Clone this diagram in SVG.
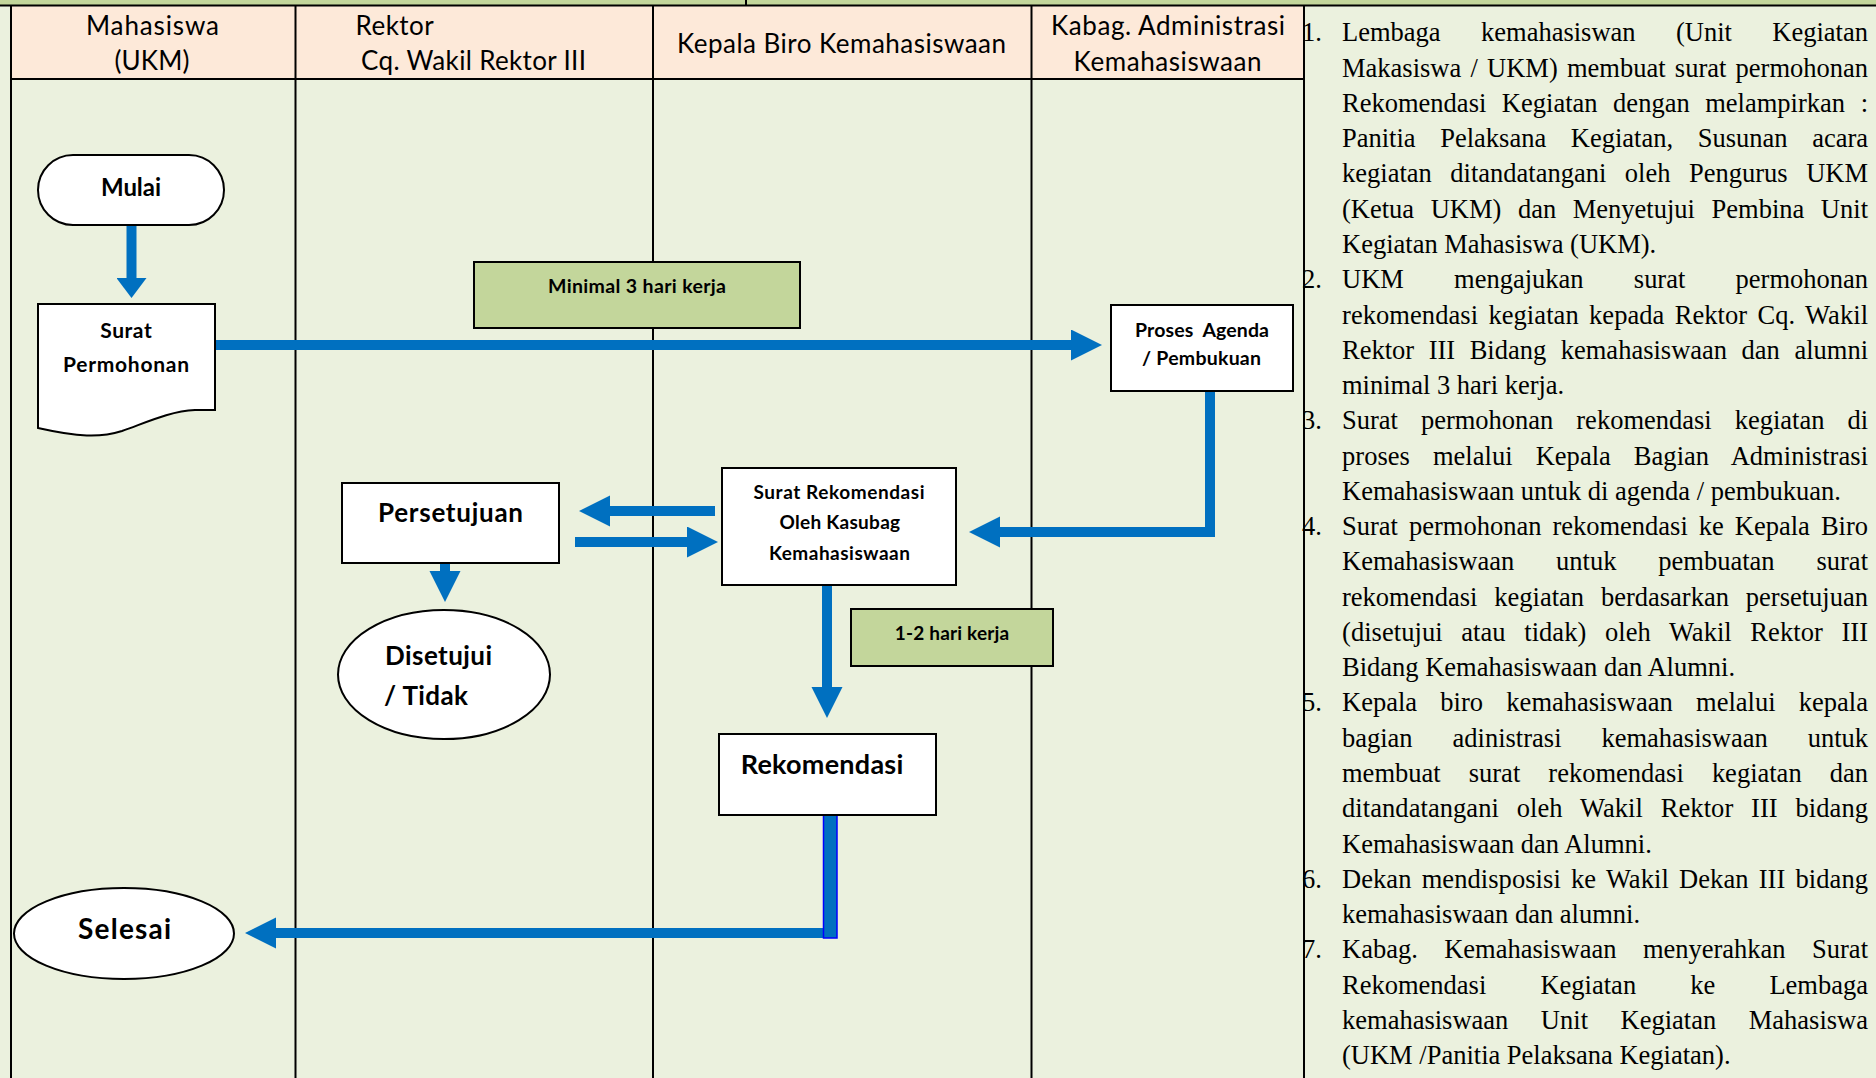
<svg xmlns="http://www.w3.org/2000/svg" width="1876" height="1078" viewBox="0 0 1876 1078">
<defs>
<style>
.lane{stroke:#000;stroke-width:2;fill:none}
.box{fill:#fff;stroke:#000;stroke-width:2}
.tag{fill:#C3D69B;stroke:#000;stroke-width:2}
.lbl{font-family:Lato,"Open Sans","Liberation Sans",sans-serif;font-weight:700;fill:#000}
.hdr{font-family:Lato,"Open Sans","Liberation Sans",sans-serif;font-size:26px;fill:#000}
.body{font-family:"Liberation Serif","Times New Roman",serif;font-size:26.5px;fill:#000}
.conn{stroke:#0070C0;fill:none;stroke-width:10;stroke-linejoin:miter}
</style>
<marker id="ah" markerUnits="userSpaceOnUse" markerWidth="32" markerHeight="32" refX="0" refY="15.5" orient="auto">
<path d="M0,0 L31,15.5 L0,31 Z" fill="#0070C0"/>
</marker>
<marker id="ah2" markerUnits="userSpaceOnUse" markerWidth="22" markerHeight="30" refX="0" refY="15" orient="auto">
<path d="M0,0 L20,15 L0,30 Z" fill="#0070C0"/>
</marker>
</defs>

<g id="background">
<rect x="0" y="0" width="1876" height="1078" fill="#EBF1DE"/>
<rect x="0" y="0" width="1876" height="5.5" fill="#C3D69B"/>
<rect x="11" y="6" width="1293" height="73" fill="#FDE9D9"/>
</g>

<g id="lanes">
<line class="lane" x1="0" y1="5.5" x2="1876" y2="5.5"/>
<line class="lane" x1="746" y1="0" x2="746" y2="5"/>
<line class="lane" x1="11" y1="5" x2="11" y2="1078"/>
<line class="lane" x1="295.5" y1="5" x2="295.5" y2="1078"/>
<line class="lane" x1="653" y1="5" x2="653" y2="1078"/>
<line class="lane" x1="1031.5" y1="5" x2="1031.5" y2="1078"/>
<line class="lane" x1="11" y1="79" x2="1304" y2="79"/>
</g>

<g id="headers">
<text class="hdr" x="152.5" y="35" text-anchor="middle" textLength="133">Mahasiswa</text>
<text class="hdr" x="152" y="70" text-anchor="middle" textLength="75">(UKM)</text>
<text class="hdr" x="355.6" y="35" textLength="78">Rektor</text>
<text class="hdr" x="361" y="70" textLength="225">Cq. Wakil Rektor III</text>
<text class="hdr" x="677" y="53" textLength="329">Kepala Biro Kemahasiswaan</text>
<text class="hdr" x="1051" y="35" textLength="234">Kabag. Administrasi</text>
<text class="hdr" x="1073.6" y="70.5" textLength="188">Kemahasiswaan</text>
</g>

<g id="connectors">
<line class="conn" x1="131.5" y1="225" x2="131.5" y2="278" stroke-width="14" marker-end="url(#ah2)"/>
<path class="conn" d="M213,345 H1071" marker-end="url(#ah)"/>
<path class="conn" d="M1210,391 V532 H1000" stroke-width="10.5" marker-end="url(#ah)"/>
<path class="conn" d="M715,511 H610" marker-end="url(#ah)"/>
<path class="conn" d="M575,542 H687" marker-end="url(#ah)"/>
<path class="conn" d="M445,563 V571" marker-end="url(#ah)"/>
<path class="conn" d="M827,585 V687" marker-end="url(#ah)"/>
<path class="conn" d="M824,933 H276" stroke-width="10.5" marker-end="url(#ah)"/>
<rect x="823.5" y="813" width="13.5" height="125" fill="#0070C0" stroke="#0000FF" stroke-width="1.5"/>
</g>

<g id="node-mulai">
<rect class="box" x="38" y="155" width="186" height="70" rx="35" ry="35"/>
<text class="lbl" x="131" y="196" text-anchor="middle" font-size="24" textLength="60">Mulai</text>
</g>

<g id="node-surat-permohonan">
<path class="box" d="M38,304 H215 V410 H195 C170,411 145,423 122,431 C100,438 78,437 38,428 Z"/>
<text class="lbl" x="126" y="338" text-anchor="middle" font-size="21" textLength="51.5">Surat</text>
<text class="lbl" x="126" y="372" text-anchor="middle" font-size="21" textLength="126">Permohonan</text>
</g>

<g id="label-minimal">
<rect class="tag" x="474" y="262" width="326" height="66"/>
<text class="lbl" x="637" y="293" text-anchor="middle" font-size="19.5" textLength="178">Minimal 3 hari kerja</text>
</g>

<g id="node-proses-agenda">
<rect class="box" x="1111" y="305" width="182" height="86"/>
<text class="lbl" x="1202" y="337" text-anchor="middle" font-size="19.5" textLength="134" xml:space="preserve">Proses  Agenda</text>
<text class="lbl" x="1201.5" y="365" text-anchor="middle" font-size="19.5" textLength="119">/ Pembukuan</text>
</g>

<g id="node-surat-rekomendasi">
<rect class="box" x="722" y="468" width="234" height="117"/>
<text class="lbl" x="839" y="499" text-anchor="middle" font-size="19" textLength="171">Surat Rekomendasi</text>
<text class="lbl" x="839.8" y="529" text-anchor="middle" font-size="19" textLength="120.6">Oleh Kasubag</text>
<text class="lbl" x="839.4" y="560" text-anchor="middle" font-size="19" textLength="141">Kemahasiswaan</text>
</g>

<g id="node-persetujuan">
<rect class="box" x="342" y="483" width="217" height="80"/>
<text class="lbl" x="450.5" y="522" text-anchor="middle" font-size="26" textLength="145">Persetujuan</text>
</g>

<g id="node-disetujui">
<ellipse class="box" cx="444" cy="674.5" rx="106" ry="64.5"/>
<text class="lbl" x="385" y="665" font-size="26" textLength="107">Disetujui</text>
<text class="lbl" x="384" y="705" font-size="26" textLength="84">/ Tidak</text>
</g>

<g id="label-1-2-hari">
<rect class="tag" x="851" y="609" width="202" height="57"/>
<text class="lbl" x="952" y="640" text-anchor="middle" font-size="19" textLength="114.5">1-2 hari kerja</text>
</g>

<g id="node-rekomendasi">
<rect class="box" x="719" y="734" width="217" height="81"/>
<text class="lbl" x="822" y="774" text-anchor="middle" font-size="27" textLength="162.6">Rekomendasi</text>
</g>

<g id="node-selesai">
<ellipse class="box" cx="124" cy="933.5" rx="110" ry="45.5"/>
<text class="lbl" x="124.6" y="939" text-anchor="middle" font-size="28" textLength="93">Selesai</text>
</g>

<g id="description" transform="translate(0,2)">
<text class="body" x="1302" y="39.3">1.</text>
<text class="body" x="1342" y="39.3" textLength="526" style="word-spacing:33.8px">Lembaga kemahasiswan (Unit Kegiatan</text>
<text class="body" x="1342" y="74.6" textLength="526" style="word-spacing:2.6px">Makasiswa / UKM) membuat surat permohonan</text>
<text class="body" x="1342" y="109.8" textLength="526" style="word-spacing:8.9px">Rekomendasi Kegiatan dengan melampirkan :</text>
<text class="body" x="1342" y="145.1" textLength="526" style="word-spacing:18px">Panitia Pelaksana Kegiatan, Susunan acara</text>
<text class="body" x="1342" y="180.4" textLength="526" style="word-spacing:11.9px">kegiatan ditandatangani oleh Pengurus UKM</text>
<text class="body" x="1342" y="215.7" textLength="526" style="word-spacing:9.9px">(Ketua UKM) dan Menyetujui Pembina Unit</text>
<text class="body" x="1342" y="250.9">Kegiatan Mahasiswa (UKM).</text>
<text class="body" x="1302" y="286.2">2.</text>
<text class="body" x="1342" y="286.2" textLength="526" style="word-spacing:43.6px">UKM mengajukan surat permohonan</text>
<text class="body" x="1342" y="321.5" textLength="526" style="word-spacing:3.6px">rekomendasi kegiatan kepada Rektor Cq. Wakil</text>
<text class="body" x="1342" y="356.7" textLength="526" style="word-spacing:7.9px">Rektor III Bidang kemahasiswaan dan alumni</text>
<text class="body" x="1342" y="392">minimal 3 hari kerja.</text>
<text class="body" x="1302" y="427.3">3.</text>
<text class="body" x="1342" y="427.3" textLength="526" style="word-spacing:16.3px">Surat permohonan rekomendasi kegiatan di</text>
<text class="body" x="1342" y="462.5" textLength="526" style="word-spacing:16.3px">proses melalui Kepala Bagian Administrasi</text>
<text class="body" x="1342" y="497.8">Kemahasiswaan untuk di agenda / pembukuan.</text>
<text class="body" x="1302" y="533.1">4.</text>
<text class="body" x="1342" y="533.1" textLength="526" style="word-spacing:4.4px">Surat permohonan rekomendasi ke Kepala Biro</text>
<text class="body" x="1342" y="568.4" textLength="526" style="word-spacing:35.2px">Kemahasiswaan untuk pembuatan surat</text>
<text class="body" x="1342" y="603.6" textLength="526" style="word-spacing:10.2px">rekomendasi kegiatan berdasarkan persetujuan</text>
<text class="body" x="1342" y="638.9" textLength="526" style="word-spacing:11.9px">(disetujui atau tidak) oleh Wakil Rektor III</text>
<text class="body" x="1342" y="674.2">Bidang Kemahasiswaan dan Alumni.</text>
<text class="body" x="1302" y="709.4">5.</text>
<text class="body" x="1342" y="709.4" textLength="526" style="word-spacing:16.7px">Kepala biro kemahasiswaan melalui kepala</text>
<text class="body" x="1342" y="744.7" textLength="526" style="word-spacing:33.3px">bagian adinistrasi kemahasiswaan untuk</text>
<text class="body" x="1342" y="780" textLength="526" style="word-spacing:21.5px">membuat surat rekomendasi kegiatan dan</text>
<text class="body" x="1342" y="815.2" textLength="526" style="word-spacing:11.1px">ditandatangani oleh Wakil Rektor III bidang</text>
<text class="body" x="1342" y="850.5">Kemahasiswaan dan Alumni.</text>
<text class="body" x="1302" y="885.8">6.</text>
<text class="body" x="1342" y="885.8" textLength="526" style="word-spacing:3.5px">Dekan mendisposisi ke Wakil Dekan III bidang</text>
<text class="body" x="1342" y="921.1">kemahasiswaan dan alumni.</text>
<text class="body" x="1302" y="956.3">7.</text>
<text class="body" x="1342" y="956.3" textLength="526" style="word-spacing:19.8px">Kabag. Kemahasiswaan menyerahkan Surat</text>
<text class="body" x="1342" y="991.6" textLength="526" style="word-spacing:47.5px">Rekomendasi Kegiatan ke Lembaga</text>
<text class="body" x="1342" y="1026.9" textLength="526" style="word-spacing:25.9px">kemahasiswaan Unit Kegiatan Mahasiswa</text>
<text class="body" x="1342" y="1062.1">(UKM /Panitia Pelaksana Kegiatan).</text>
</g>

<g id="panel-border">
<line class="lane" x1="1304" y1="5" x2="1304" y2="1078"/>
</g>
</svg>
